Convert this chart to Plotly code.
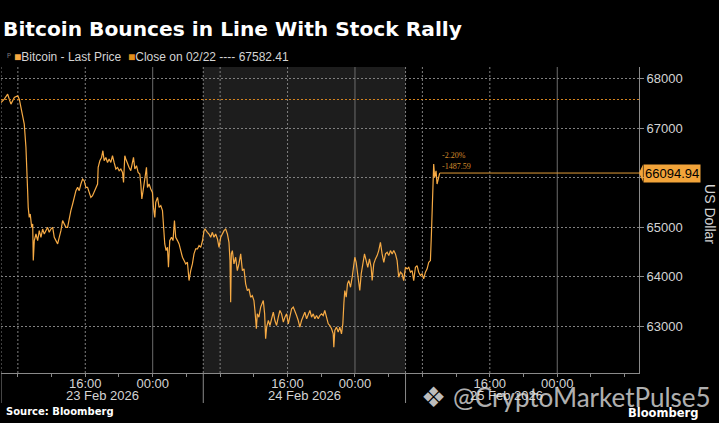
import pandas as pd
import plotly.graph_objects as go

# Bitcoin last price, 23-25 Feb 2026 (hours counted from 23 Feb 06:00)
hours = [
    0.00, 0.39, 0.79, 1.18, 1.58, 1.98, 2.17, 2.37, 2.57, 2.76, 2.96, 3.08, 3.16, 3.23, 3.35,
    3.47, 3.64, 3.76, 3.83, 3.95, 4.15, 4.35, 4.54, 4.74, 4.94, 5.13, 5.33, 5.53, 5.72, 5.92,
    6.13, 6.32, 6.52, 6.72, 6.91, 7.11, 7.31, 7.50, 7.70, 7.90, 8.09, 8.29, 8.50, 8.68, 8.89,
    9.09, 9.28, 9.48, 9.68, 9.87, 10.07, 10.27, 10.46, 10.66, 10.86, 11.05, 11.26, 11.46, 11.53, 11.73,
    11.93, 12.09, 12.24, 12.44, 12.64, 12.83, 13.03, 13.23, 13.42, 13.63, 13.83, 14.02, 14.22, 14.42, 14.54,
    14.69, 14.81, 15.01, 15.20, 15.40, 15.60, 15.72, 15.88, 16.08, 16.27, 16.47, 16.59, 16.71, 16.86, 17.06,
    17.26, 17.38, 17.57, 17.77, 17.97, 18.09, 18.25, 18.36, 18.57, 18.76, 18.96, 19.16, 19.28, 19.43, 19.59,
    19.75, 19.87, 20.02, 20.23, 20.41, 20.58, 20.73, 20.94, 21.13, 21.33, 21.53, 21.72, 21.92, 22.12, 22.31,
    22.51, 22.71, 22.90, 23.10, 23.31, 23.50, 23.70, 23.90, 24.09, 24.21, 24.49, 24.68, 24.88, 25.08, 25.27,
    25.47, 25.68, 25.87, 26.07, 26.27, 26.46, 26.66, 26.86, 27.05, 27.17, 27.25, 27.33, 27.45, 27.64, 27.84,
    28.04, 28.23, 28.44, 28.64, 28.83, 29.03, 29.23, 29.42, 29.62, 29.82, 30.01, 30.13, 30.30, 30.41, 30.60,
    30.81, 31.01, 31.12, 31.28, 31.40, 31.52, 31.72, 31.91, 32.11, 32.31, 32.50, 32.70, 32.90, 33.09, 33.29,
    33.50, 33.69, 33.89, 34.09, 34.28, 34.48, 34.68, 34.87, 35.07, 35.27, 35.46, 35.66, 35.86, 36.05, 36.26,
    36.46, 36.65, 36.85, 37.05, 37.24, 37.44, 37.64, 37.83, 38.03, 38.23, 38.42, 38.63, 38.83, 39.02, 39.22,
    39.42, 39.49, 39.61, 39.81, 40.01, 40.20, 40.40, 40.56, 40.68, 40.79, 40.96, 41.11, 41.27, 41.47, 41.67,
    41.86, 41.98, 42.14, 42.30, 42.45, 42.57, 42.74, 42.93, 43.13, 43.33, 43.52, 43.72, 43.92, 44.04, 44.23,
    44.43, 44.63, 44.82, 45.02, 45.22, 45.42, 45.62, 45.82, 46.01, 46.21, 46.41, 46.60, 46.80, 47.00, 47.19,
    47.39, 47.59, 47.78, 47.99, 48.19, 48.38, 48.58, 48.78, 48.97, 49.17, 49.37, 49.56, 49.76, 49.96, 50.15,
    50.36, 50.56, 50.75, 50.95, 51.07, 51.15, 51.22, 51.27, 51.34, 51.46, 51.62, 51.74, 51.86, 51.98, 52.05,
]
prices = [
    67521, 67590, 67690, 67489, 67622, 67657, 67590, 67420, 67286, 67084, 66613, 66209, 65738, 65400, 65198,
    65266, 64997, 65064, 64324, 64728, 64862, 64728, 64930, 64795, 64963, 64862, 64930, 64997, 64896, 64963,
    64997, 64795, 64728, 64661, 64795, 64930, 65132, 65064, 64997, 64997, 65198, 65334, 65469, 65602, 65738,
    65805, 65738, 65873, 65974, 65940, 65805, 65805, 65704, 65602, 65637, 65704, 65772, 65873, 66209, 66344,
    66410, 66546, 66344, 66410, 66309, 66378, 66309, 66445, 66309, 66176, 66209, 66142, 66176, 66108, 65906,
    66445, 66378, 66277, 66209, 66142, 66309, 66411, 66176, 66243, 66108, 66075, 65873, 65570, 65738, 65940,
    66209, 65805, 65873, 65772, 65704, 65400, 65198, 65501, 65602, 65400, 65435, 65334, 64997, 64661, 64526,
    64593, 64189, 64728, 64795, 64728, 65132, 64795, 64728, 64661, 64526, 64391, 64324, 64257, 64290, 63920,
    64122, 64257, 64459, 64560, 64560, 64630, 64593, 64720, 64930, 64963, 64896, 64862, 64795, 64896, 64795,
    64862, 64762, 64593, 64795, 64862, 64930, 64963, 64862, 64694, 64324, 63482, 64459, 64526, 64257, 64391,
    64122, 64257, 64459, 64122, 64156, 63853, 63718, 63752, 63583, 63617, 63516, 63314, 62944, 63247, 63180,
    63382, 63449, 63516, 63247, 62742, 62976, 63112, 63011, 63180, 63280, 63112, 63011, 63180, 63314, 63247,
    63078, 63180, 63247, 63045, 63180, 63348, 63382, 63314, 63213, 63112, 62978, 63112, 63213, 63280, 63146,
    63247, 63314, 63180, 63247, 63146, 63213, 63146, 63213, 63247, 63213, 63314, 63146, 63045, 63011, 62944,
    62843, 62572, 62910, 62978, 62876, 62978, 62843, 63045, 63449, 63718, 63583, 63853, 63920, 63785, 63988,
    64189, 64391, 64290, 64055, 63920, 63718, 64055, 64257, 64459, 64324, 64189, 64358, 64189, 63920, 64257,
    64358, 64425, 64526, 64694, 64459, 64290, 64459, 64492, 64425, 64526, 64459, 64526, 64459, 64324, 63988,
    64089, 64055, 63920, 64189, 64156, 64189, 64089, 64122, 63920, 64189, 64223, 64089, 64022, 64055, 63954,
    64089, 64156, 64290, 64324, 64862, 65266, 65804, 66141, 66276, 66006, 66141, 65873, 65974, 66075, 66094.94,
]

CLOSE_PREV = 67582.41
LAST_PRICE = 66094.94
change_pct = "-2.20%"
change_abs = "-1487.59"

T0 = pd.Timestamp("2026-02-23 06:00")
X_END = pd.Timestamp("2026-02-26 09:42")

# axis ticks: small ticks every 4h, labels only at 16:00 / 00:00
tick_times = pd.date_range("2026-02-23 08:00", "2026-02-26 08:00", freq="4h")
tick_text = [t.strftime("%H:%M") if t.hour in (16, 0) else "" for t in tick_times]

day_labels = ["23 Feb 2026", "24 Feb 2026", "25 Feb 2026"]
day_centers = ["2026-02-23 18:00", "2026-02-24 18:00", "2026-02-25 18:00"]
day_starts = ["2026-02-23 06:00", "2026-02-24 06:00", "2026-02-25 06:00"]
grid_dotted = ["2026-02-23 06:00", "2026-02-23 08:00", "2026-02-23 16:00",
               "2026-02-24 06:00", "2026-02-24 08:00", "2026-02-24 16:00",
               "2026-02-25 06:00", "2026-02-25 08:00", "2026-02-25 16:00"]
grid_solid = ["2026-02-24 00:00", "2026-02-25 00:00", "2026-02-26 00:00"]

y_ticks = [63000, 64000, 65000, 66000, 67000, 68000]
Y_RANGE = [62050, 68240]

colors = {
    'line': '#f6aa44',
    'close': '#d2821f',
    'box': '#f2a43a',
    'grid': '#808080',
    'axis': '#8a8a8a',
    'text': '#d4d4d4',
    'shade': '#1d1d1d',
}
DOTS = '2px,2px'

times = T0 + pd.to_timedelta(hours, unit="h")
last_time = times[-1]

fig = go.Figure()

fig.add_trace(go.Scatter(
    x=times, y=prices, mode='lines',
    line=dict(color=colors['line'], width=1.2),
    hoverinfo='skip'
))

# last-price guide to the axis
fig.add_trace(go.Scatter(
    x=[last_time, X_END], y=[LAST_PRICE, LAST_PRICE], mode='lines',
    line=dict(color='#e09a36', width=1),
    hoverinfo='skip'
))

shapes = []
# 24 Feb shaded block
shapes.append(dict(type='rect', xref='x', yref='paper', x0=day_starts[1], x1=day_starts[2],
                   y0=0, y1=1, fillcolor=colors['shade'], line_width=0, layer='below'))
for t in grid_dotted:
    shapes.append(dict(type='line', xref='x', yref='paper', x0=t, x1=t, y0=0, y1=1,
                       line=dict(color=colors['grid'], width=1, dash=DOTS), layer='below'))
for t in grid_solid:
    shapes.append(dict(type='line', xref='x', yref='paper', x0=t, x1=t, y0=0, y1=1,
                       line=dict(color='#6c6c6c', width=1), layer='below'))
# day separators below the axis
for t in day_starts:
    shapes.append(dict(type='line', xref='x', yref='paper', x0=t, x1=t, y0=0, y1=-0.098,
                       line=dict(color=colors['axis'], width=1)))
# previous close line
shapes.append(dict(type='line', xref='paper', yref='y', x0=0, x1=1, y0=CLOSE_PREV, y1=CLOSE_PREV,
                   line=dict(color=colors['close'], width=1, dash=DOTS)))
# pointer of the price box
shapes.append(dict(type='path', xref='paper', yref='y',
                   path=f"M 1.0,{LAST_PRICE} L 1.0062,{LAST_PRICE + 175} L 1.0062,{LAST_PRICE - 175} Z",
                   fillcolor=colors['box'], line_width=0))

annotations = []
annotations.append(dict(
    text="ᵖ", xref='paper', yref='paper', x=0.006, y=1.033, xanchor='left', yanchor='middle',
    showarrow=False, font=dict(family='DejaVu Sans', size=10, color='#8a8a8a')
))
annotations.append(dict(
    text=f"<span style='color:#f7a940'>■</span>Bitcoin - Last Price",
    xref='paper', yref='paper', x=0.017, y=1.033, xanchor='left', yanchor='middle',
    showarrow=False, font=dict(family='Liberation Sans', size=12, color=colors['text'])
))
annotations.append(dict(
    text=f"<span style='color:#e08e1b'>■</span>Close on 02/22 ---- {CLOSE_PREV:.2f}",
    xref='paper', yref='paper', x=0.196, y=1.033, xanchor='left', yanchor='middle',
    showarrow=False, font=dict(family='Liberation Sans', size=12, color=colors['text'])
))
for lbl, c in zip(day_labels, day_centers):
    annotations.append(dict(
        text=lbl, xref='x', yref='paper', x=c, y=-0.074, xanchor='center', yanchor='middle',
        showarrow=False, font=dict(family='Liberation Sans', size=13, color=colors['text'])
    ))
annotations.append(dict(
    text=f"{LAST_PRICE:.2f}", xref='paper', yref='y', x=1.0062, y=LAST_PRICE,
    xanchor='left', yanchor='middle', showarrow=False, bgcolor=colors['box'], borderpad=1,
    font=dict(family='Liberation Sans', size=13, color='#000000')
))
annotations.append(dict(
    text=change_pct, xref='x', yref='y', x=last_time, y=LAST_PRICE, xanchor='left',
    yanchor='bottom', yshift=11, showarrow=False,
    font=dict(family='Liberation Sans Narrow', size=8, color='#d38b2c')
))
annotations.append(dict(
    text=change_abs, xref='x', yref='y', x=last_time, y=LAST_PRICE, xanchor='left',
    yanchor='bottom', yshift=0, showarrow=False,
    font=dict(family='Liberation Sans Narrow', size=8, color='#d38b2c')
))
annotations.append(dict(
    text="US Dollar", xref='paper', yref='paper', x=1.111, y=0.52, textangle=90,
    xanchor='center', yanchor='middle', showarrow=False,
    font=dict(family='Liberation Sans', size=14, color=colors['text'])
))
annotations.append(dict(
    text="Source: Bloomberg", xref='paper', yref='paper', x=0.004, y=-0.127,
    xanchor='left', yanchor='middle', showarrow=False,
    font=dict(family='DejaVu Sans', size=10, color='#ffffff', weight='bold')
))
annotations.append(dict(
    text="Bloomberg", xref='paper', yref='paper', x=1.096, y=-0.131,
    xanchor='right', yanchor='middle', showarrow=False,
    font=dict(family='DejaVu Sans', size=11.5, color='#ffffff', weight='bold')
))
# watermark over the bottom right
annotations.append(dict(
    text="❖", xref='paper', yref='paper', x=0.678, y=-0.08,
    xanchor='center', yanchor='middle', showarrow=False,
    font=dict(family='DejaVu Sans', size=28, color='rgba(225,225,225,0.85)')
))
annotations.append(dict(
    text="@CryptoMarketPulse5", xref='paper', yref='paper', x=0.706, y=-0.08,
    xanchor='left', yanchor='middle', showarrow=False,
    font=dict(family='Lato', size=26, color='rgba(225,225,225,0.8)')
))

fig.update_layout(
    width=719, height=423,
    margin=dict(l=1, r=80, t=67, b=50),
    paper_bgcolor='#000000', plot_bgcolor='#000000',
    showlegend=False,
    title=dict(
        text="<b>Bitcoin Bounces in Line With Stock Rally</b>",
        x=3 / 719, xref='container', xanchor='left',
        y=1 - 29 / 423, yref='container', yanchor='middle',
        font=dict(family='DejaVu Sans', size=20.2, color='#ffffff')
    ),
    xaxis=dict(
        type='date', range=[T0, X_END],
        tickvals=tick_times, ticktext=tick_text,
        ticks='outside', ticklen=3, tickcolor=colors['axis'],
        ticklabelstandoff=-5,
        showline=True, linecolor=colors['axis'], linewidth=1,
        showgrid=False, zeroline=False,
        tickfont=dict(family='Liberation Sans', size=13, color=colors['text'])
    ),
    yaxis=dict(
        side='right', range=Y_RANGE, tickvals=y_ticks,
        ticktext=[str(v) for v in y_ticks],
        ticks='outside', ticklen=4, tickcolor=colors['axis'],
        showline=True, linecolor=colors['axis'], linewidth=1,
        showgrid=True, gridcolor=colors['grid'], griddash=DOTS, gridwidth=1,
        zeroline=False,
        tickfont=dict(family='Liberation Sans', size=13, color=colors['text'])
    ),
    shapes=shapes,
    annotations=annotations,
)

# page body has a default 8px margin; drop it so the figure sits at the corner
fig.write_html("out.html", config={'displayModeBar': False},
               post_script="document.body.style.margin='0';")
